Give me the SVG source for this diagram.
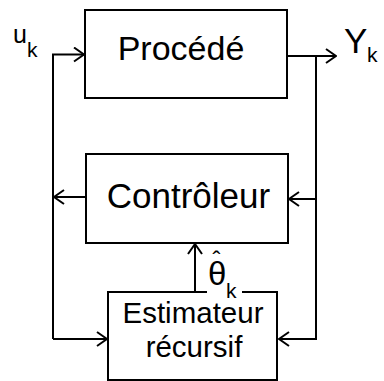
<svg xmlns="http://www.w3.org/2000/svg" width="384" height="381" viewBox="0 0 384 381">
<defs>
<marker id="ah" viewBox="0 0 12 16" refX="11" refY="8" markerWidth="12" markerHeight="16" markerUnits="userSpaceOnUse" orient="auto">
<path d="M1,1 L11,8 L1,15" fill="none" stroke="#000" stroke-width="2"/>
</marker>
<style>
.box{fill:#fff;stroke:#000;stroke-width:2}
.ln{fill:none;stroke:#000;stroke-width:2}
.arr{fill:none;stroke:#000;stroke-width:2;marker-end:url(#ah)}
text{font-family:"Liberation Sans",Arial,sans-serif;fill:#000}
</style>
</defs>
<rect width="384" height="381" fill="#fff"/>
<g id="connectors">
<path class="arr" d="M287,56 H336"/>
<path class="arr" d="M316,56 V339 H279"/>
<path class="arr" d="M316,199 H289"/>
<path class="arr" d="M86,197 H54"/>
<path class="arr" d="M53,339 V54.5 H84"/>
<path class="arr" d="M53,339 H107"/>
<path class="arr" d="M195,292 V244"/>
</g>
<g id="procede">
<rect class="box" x="85" y="10" width="202" height="88"/>
<text x="181" y="60" font-size="34" text-anchor="middle">Procédé</text>
</g>
<g id="controleur">
<rect class="box" x="86" y="154" width="202" height="89"/>
<text x="188.5" y="208" font-size="35" text-anchor="middle">Contrôleur</text>
</g>
<g id="estimateur">
<path class="ln" d="M207,292 H108 V380 H277 V292 H242"/>
<text x="193" y="323" font-size="29.5" text-anchor="middle">Estimateur</text>
<text x="194" y="357" font-size="29.5" text-anchor="middle">récursif</text>
</g>
<g id="labels">
<text x="13" y="43" font-size="25">u<tspan x="27" y="57" font-size="21">k</tspan></text>
<text x="344" y="53" font-size="35">Y<tspan x="367" y="62" font-size="21">k</tspan></text>
<text x="208" y="285" font-size="33">θ<tspan x="212.5" y="268" font-size="24">ˆ</tspan><tspan x="226" y="298" font-size="21">k</tspan></text>
</g>
</svg>
